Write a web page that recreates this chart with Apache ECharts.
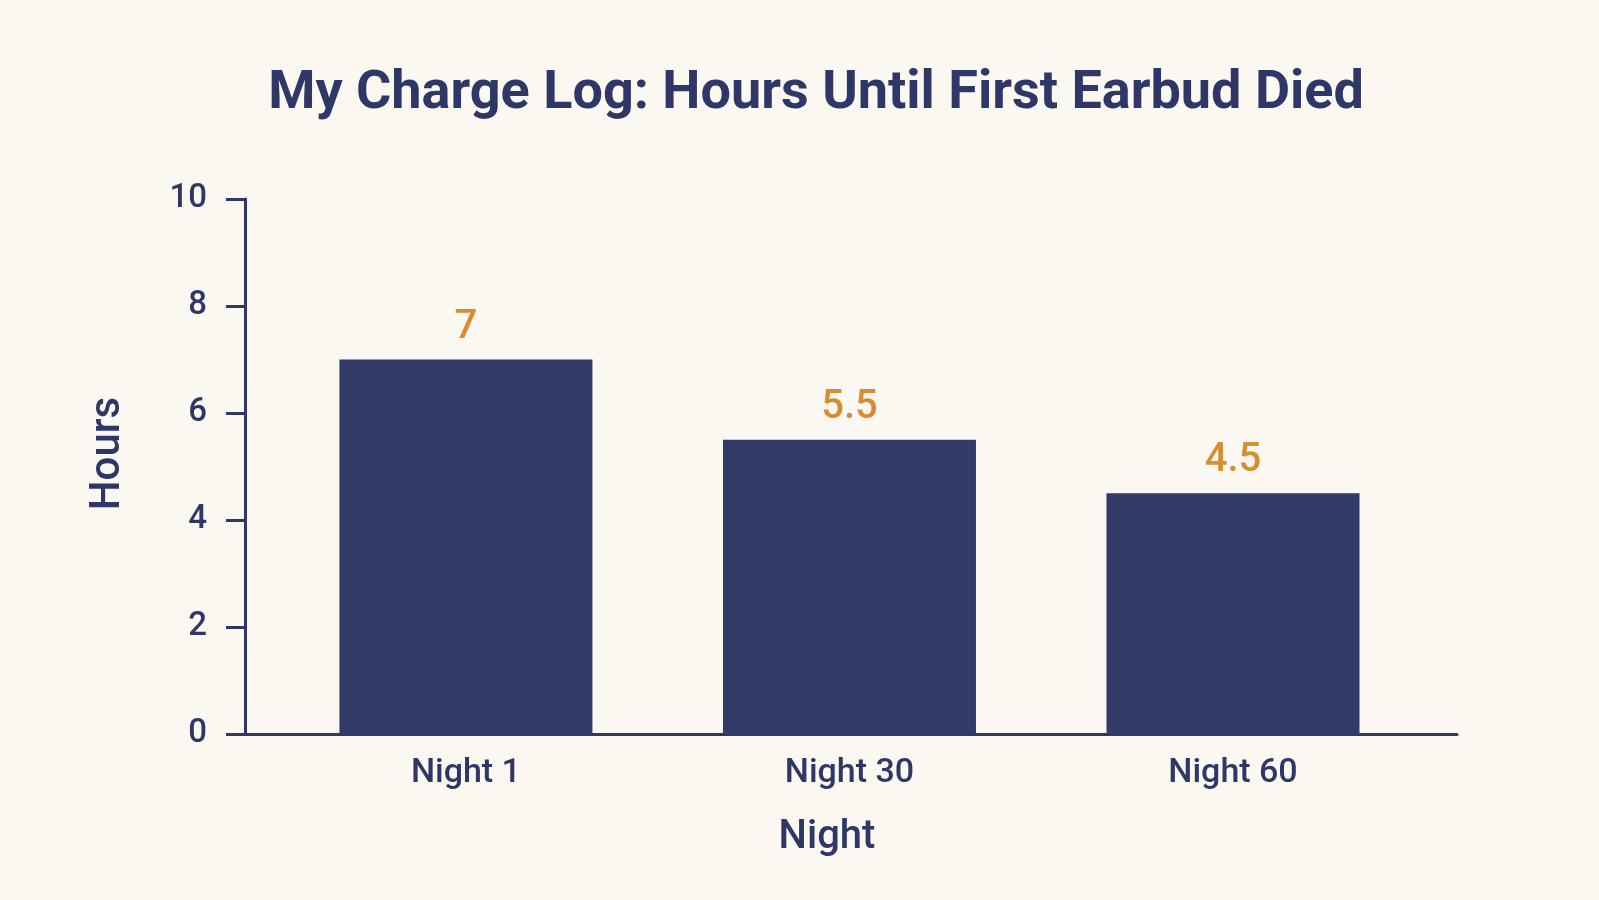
<!DOCTYPE html>
<html>
<head>
<meta charset="utf-8">
<title>My Charge Log</title>
<script src="https://cdn.jsdelivr.net/npm/echarts@6/dist/echarts.min.js"></script>
<style>
  html, body { margin: 0; padding: 0; background: #faf8f1; }
  #chart { width: 1599px; height: 900px; }
</style>
</head>
<body>
<div id="chart"></div>
<script>
(function () {
  "use strict";

  var nights = ["Night 1", "Night 30", "Night 60"];
  var hours = [7, 5.5, 4.5];
  var yTicks = [0, 2, 4, 6, 8, 10];

  var navy = "#2f3767";
  var barColor = "#323a68";
  var orange = "#d98d33";

  var chart = echarts.init(document.getElementById("chart"));

  var barData = hours.map(function (h, i) {
    return [i, h];
  });

  chart.setOption({
    backgroundColor: "#faf8f1",
    animation: false,
    textStyle: { fontFamily: "Roboto, sans-serif" },
    title: {
      text: "My Charge Log: Hours Until First Earbud Died",
      left: 811,
      textAlign: "center",
      top: 62,
      textStyle: {
        color: navy,
        fontSize: 54,
        fontWeight: "bold",
        fontFamily: "Roboto, sans-serif"
      }
    },
    grid: { left: 245, right: 142, top: 199, bottom: 166, containLabel: false },
    xAxis: {
      type: "value",
      min: -0.576,
      max: 2.584,
      name: "Night",
      nameLocation: "middle",
      nameGap: 84,
      nameTextStyle: {
        color: navy,
        fontSize: 40,
        fontWeight: 500,
        padding: [0, 48, 0, 0]
      },
      axisLine: { show: true, onZero: false, lineStyle: { color: navy, width: 3 } },
      axisTick: { show: false },
      splitLine: { show: false },
      axisLabel: {
        customValues: [0, 1, 2],
        color: navy,
        fontSize: 34,
        fontWeight: 500,
        margin: 22,
        formatter: function (v) {
          return nights[Math.round(v)] || "";
        }
      }
    },
    yAxis: {
      type: "value",
      min: yTicks[0],
      max: yTicks[yTicks.length - 1],
      interval: 2,
      name: "Hours",
      nameLocation: "middle",
      nameGap: 116,
      nameTextStyle: {
        color: navy,
        fontSize: 42,
        fontWeight: 500,
        padding: [0, 0, 0, 26]
      },
      axisLine: { show: true, onZero: false, lineStyle: { color: navy, width: 3 } },
      axisTick: { show: true, length: 19, lineStyle: { color: navy, width: 3 } },
      splitLine: { show: false },
      axisLabel: { color: navy, fontSize: 33, fontWeight: 500, margin: 38 }
    },
    series: [
      {
        type: "bar",
        data: barData,
        barWidth: 253,
        itemStyle: { color: barColor },
        label: {
          show: true,
          position: "top",
          distance: 12,
          color: orange,
          fontSize: 40,
          fontWeight: 500,
          formatter: function (p) {
            return p.value[1];
          }
        }
      }
    ]
  });

  window.addEventListener("resize", function () {
    chart.resize();
  });
})();
</script>
</body>
</html>
